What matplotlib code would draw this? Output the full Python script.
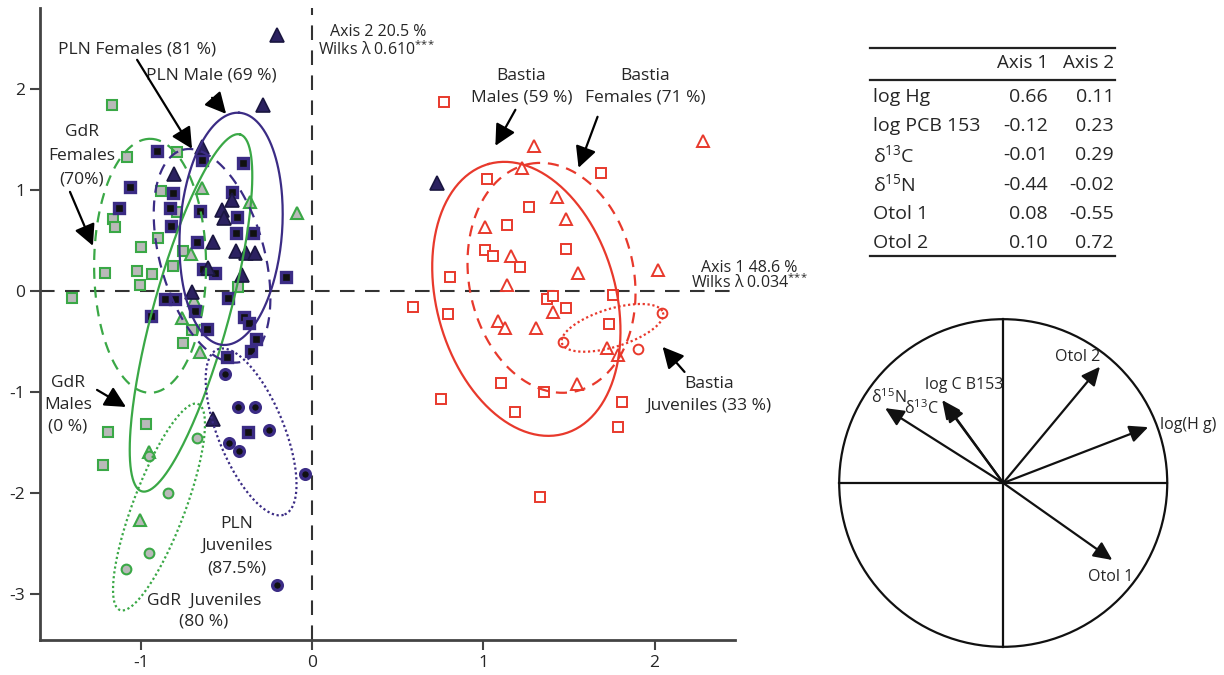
import numpy as np
import matplotlib
matplotlib.use("Agg")
import matplotlib.pyplot as plt
from matplotlib.patches import Circle

plt.rcParams['font.family'] = ['Open Sans', 'DejaVu Sans']
plt.rcParams['mathtext.fontset'] = 'custom'
plt.rcParams['mathtext.rm'] = 'Open Sans'
plt.rcParams['mathtext.it'] = 'Open Sans'
plt.rcParams['axes.unicode_minus'] = False

# ---- discriminant scores (axis 1, axis 2) ----
gdr_sq_x = [-1.170, -1.082, -0.789, -0.883, -0.789, -1.164, -1.152, -0.901, -1.000, -0.754, -1.211,
            -1.023, -0.936, -0.813, -1.006, -0.433, -1.404, -0.702, -0.754, -0.971, -1.193, -1.222]
gdr_sq_y = [1.842, 1.327, 1.376, 0.990, 0.782, 0.713, 0.634, 0.525, 0.436, 0.396, 0.178,
            0.198, 0.168, 0.248, 0.059, 0.040, -0.069, -0.386, -0.515, -1.317, -1.396, -1.723]
gdr_tri_x = [-0.643, -0.363, -0.088, -0.708, -0.690, -0.760, -0.655, -0.953, -1.006]
gdr_tri_y = [1.020, 0.881, 0.772, 0.366, -0.089, -0.267, -0.604, -1.594, -2.267]
gdr_cir_x = [-0.673, -0.953, -0.842, -0.953, -1.088]
gdr_cir_y = [-1.455, -1.634, -2.000, -2.594, -2.752]

pln_sq_x = [-0.906, -0.643, -0.404, -1.064, -0.813, -0.468, -1.129, -0.830, -0.655, -0.439,
            -0.825, -0.444, -0.345, -0.673, -0.637, -0.567, -0.152, -0.860, -0.801, -0.491,
            -0.942, -0.684, -0.398, -0.368, -0.614, -0.327, -0.357, -0.497, -0.374]
pln_sq_y = [1.386, 1.297, 1.267, 1.030, 0.970, 0.980, 0.822, 0.822, 0.792, 0.733,
            0.644, 0.574, 0.574, 0.485, 0.218, 0.178, 0.139, -0.079, -0.079, -0.069,
            -0.248, -0.198, -0.257, -0.317, -0.376, -0.475, -0.594, -0.653, -1.396]
pln_tri_x = [-0.205, -0.287, -0.643, -0.807, -0.468, -0.526, -0.515, -0.579, -0.444, -0.386,
             -0.333, -0.608, -0.409, -0.702, -0.579, 0.731]
pln_tri_y = [2.535, 1.842, 1.426, 1.158, 0.901, 0.802, 0.723, 0.485, 0.396, 0.376,
             0.376, 0.228, 0.158, -0.010, -1.267, 1.069]
pln_cir_x = [-0.509, -0.433, -0.333, -0.251, -0.485, -0.427, -0.041, -0.205]
pln_cir_y = [-0.822, -1.149, -1.149, -1.376, -1.505, -1.584, -1.812, -2.911]

bas_sq_x = [0.772, 1.690, 1.023, 1.269, 1.140, 1.485, 1.012, 1.058, 1.216, 0.807, 1.760, 1.374,
            1.409, 1.480, 0.591, 0.795, 1.731, 1.105, 1.357, 0.754, 1.807, 1.187, 1.789, 1.333]
bas_sq_y = [1.871, 1.168, 1.109, 0.832, 0.653, 0.416, 0.406, 0.347, 0.238, 0.139, -0.040, -0.079,
            -0.050, -0.168, -0.158, -0.228, -0.327, -0.911, -1.000, -1.069, -1.099, -1.198, -1.347, -2.040]
bas_tri_x = [1.298, 2.281, 1.228, 1.433, 1.480, 1.012, 1.164, 1.550, 2.018, 1.140, 1.404,
             1.088, 1.129, 1.310, 1.725, 1.789, 1.544]
bas_tri_y = [1.436, 1.485, 1.218, 0.931, 0.713, 0.634, 0.347, 0.178, 0.208, 0.059, -0.208,
             -0.297, -0.366, -0.366, -0.564, -0.634, -0.921]
bas_cir_x = [2.041, 1.468, 1.901]
bas_cir_y = [-0.218, -0.505, -0.574]

# ellipses: centre, then two conjugate semi-diameters (cx, cy, ux, uy, vx, vy)
ell_gdr_f = (-0.947, 0.248, 0.000, 1.257, 0.327, 0.000)
ell_gdr_m = (-0.708, -0.218, 0.287, 1.766, 0.214, -0.100)
ell_gdr_j = (-0.895, -2.139, 0.228, 1.020, 0.142, -0.091)
ell_pln_f = (-0.585, 0.347, -0.174, 1.048, 0.293, 0.140)
ell_pln_m = (-0.474, 0.614, 0.047, 1.149, 0.298, -0.030)
ell_pln_j = (-0.357, -1.396, 0.196, -0.817, 0.179, 0.123)
ell_bas_m = (1.251, -0.079, -0.220, 1.335, 0.504, 0.238)
ell_bas_f = (1.398, 0.129, -0.131, 1.127, 0.473, 0.157)
ell_bas_j = (1.754, -0.366, 0.295, 0.153, 0.033, -0.180)

# standardized coefficients
tab_vars = ['log Hg', 'log PCB 153', 'δ$^{13}$C', 'δ$^{15}$N', 'Otol 1', 'Otol 2']
tab_ax1 = [0.66, -0.12, -0.01, -0.44, 0.08, 0.10]
tab_ax2 = [0.11, 0.23, 0.29, -0.02, -0.55, 0.72]

# correlation circle
circ_names = ['log(H g)', 'Otol 2', 'Otol 1', 'δ$^{15}$N', 'log C B153', 'δ$^{13}$C']
circ_x = [0.884, 0.590, 0.665, -0.720, -0.372, -0.354]
circ_y = [0.341, 0.710, -0.470, 0.457, 0.506, 0.488]
circ_lab = [(1.125, 0.354), (0.451, 0.768), (0.652, -0.573), (-0.70, 0.518), (-0.238, 0.598), (-0.50, 0.451)]

GREEN = '#3aa846'
NAVY = '#3b2c85'
RED = '#e8392c'
TXT = '#262626'

fig = plt.figure(figsize=(12.24, 6.75), dpi=100)
ax = fig.add_axes([0.0327, 0.0519, 0.5678, 0.9363])

ax.axhline(0, color='#333', lw=1.5, ls=(0, (7, 5)), zorder=1)
ax.axvline(0, color='#333', lw=1.5, ls=(0, (7, 5)), zorder=1)

g = dict(ls='none', mfc='#b9b9b9', mec=GREEN, mew=1.5, zorder=3)
ax.plot(gdr_sq_x, gdr_sq_y, marker='s', ms=7, **g)
ax.plot(gdr_tri_x, gdr_tri_y, marker='^', ms=9, **g)
ax.plot(gdr_cir_x, gdr_cir_y, marker='o', ms=7, **g)

ax.plot(pln_sq_x, pln_sq_y, ls='none', marker='s', ms=7, mfc='#111', mec=NAVY, mew=2.4, zorder=3)
ax.plot(pln_tri_x, pln_tri_y, ls='none', marker='^', ms=9.5, mfc='#2b2160', mec='#1a1640', mew=1.2, zorder=3)
ax.plot(pln_cir_x, pln_cir_y, ls='none', marker='o', ms=7, mfc='#111', mec=NAVY, mew=2.4, zorder=3)

r = dict(ls='none', mfc='white', mec=RED, mew=1.4, zorder=3)
ax.plot(bas_sq_x, bas_sq_y, marker='s', ms=6.5, **r)
ax.plot(bas_tri_x, bas_tri_y, marker='^', ms=9, **r)
ax.plot(bas_cir_x, bas_cir_y, marker='o', ms=7, **r)


def draw_ellipse(e, **kw):
    cx, cy, ux, uy, vx, vy = e
    t = np.linspace(0, 2 * np.pi, 240)
    ax.plot(cx + ux * np.cos(t) + vx * np.sin(t), cy + uy * np.cos(t) + vy * np.sin(t), zorder=4, **kw)


dash = (0, (5, 3.5))
dots = (0, (1, 1.2))
draw_ellipse(ell_gdr_f, color=GREEN, lw=1.6, ls=dash)
draw_ellipse(ell_gdr_m, color=GREEN, lw=1.6)
draw_ellipse(ell_gdr_j, color=GREEN, lw=1.6, ls=dots)
draw_ellipse(ell_pln_f, color=NAVY, lw=1.6, ls=dash)
draw_ellipse(ell_pln_m, color=NAVY, lw=1.6)
draw_ellipse(ell_pln_j, color=NAVY, lw=1.6, ls=dots)
draw_ellipse(ell_bas_m, color=RED, lw=1.6)
draw_ellipse(ell_bas_f, color=RED, lw=1.6, ls=dash)
draw_ellipse(ell_bas_j, color=RED, lw=1.6, ls=dots)

fs = 12.5
labels = [
    ('PLN Females (81 %)', -1.023, 2.386, 1.4),
    ('PLN Male (69 %)', -0.591, 2.129, 1.4),
    ('GdR\nFemales\n(70%)', -1.345, 1.337, 1.65),
    ('GdR\nMales\n(0 %)', -1.427, -1.129, 1.5),
    ('PLN\nJuveniles\n(87.5%)', -0.439, -2.525, 1.5),
    ('GdR  Juveniles\n(80 %)', -0.632, -3.168, 1.4),
    ('Bastia\nMales (59 %)', 1.222, 2.020, 1.4),
    ('Bastia\nFemales (71 %)', 1.947, 2.020, 1.4),
    ('Bastia\nJuveniles (33 %)', 2.316, -1.030, 1.5),
]
for s, x, y, lsp in labels:
    ax.text(x, y, s, ha='center', va='center', fontsize=fs, color=TXT, linespacing=lsp, zorder=6)

arrows = [
    ((-1.023, 2.287), (-0.702, 1.406)),
    ((-0.585, 1.911), (-0.503, 1.752)),
    ((-1.415, 0.980), (-1.281, 0.446)),
    ((-1.257, -0.980), (-1.088, -1.149)),
    ((1.187, 1.792), (1.070, 1.436)),
    ((1.667, 1.723), (1.556, 1.218)),
    ((2.175, -0.802), (2.047, -0.554)),
]
for tail, head in arrows:
    ax.annotate('', xy=head, xytext=tail,
                arrowprops=dict(arrowstyle='-|>,head_length=0.75,head_width=0.38',
                                color='black', lw=1.6, mutation_scale=17, shrinkA=0, shrinkB=0),
                zorder=6)

stars = '$^{{*}{*}{*}}$'
ax.text(0.105, 2.564, 'Axis 2 20.5 %', fontsize=11.5, color=TXT, va='center')
ax.text(0.035, 2.386, 'Wilks λ 0.610' + stars, fontsize=11.5, color=TXT, va='center')
ax.text(2.269, 0.228, 'Axis 1 48.6 %', fontsize=11.5, color=TXT, va='center')
ax.text(2.211, 0.079, 'Wilks λ 0.034' + stars, fontsize=11.5, color=TXT, va='center')

ax.set_xlim(-1.59, 2.47)
ax.set_ylim(-3.455, 2.80)
ax.set_xticks([-1, 0, 1, 2])
ax.set_yticks([-3, -2, -1, 0, 1, 2])
for side in ('top', 'right'):
    ax.spines[side].set_visible(False)
for side in ('left', 'bottom'):
    ax.spines[side].set_linewidth(2)
    ax.spines[side].set_color('#444')
ax.tick_params(direction='out', length=7, width=1.5, color='#444', labelsize=12.5, labelcolor=TXT)

# coefficient table
tax = fig.add_axes([860 / 1224, 1 - 265 / 675, 270 / 1224, 225 / 675])
tax.set_xlim(0, 1)
tax.set_ylim(0, 1)
tax.axis('off')
for yl in (0.964, 0.822, 0.040):
    tax.plot([0.037, 0.944], [yl, yl], color='#222', lw=1.6)
tax.text(0.696, 0.900, 'Axis 1', ha='right', va='center', fontsize=13.5, color=TXT)
tax.text(0.941, 0.900, 'Axis 2', ha='right', va='center', fontsize=13.5, color=TXT)
for i, name in enumerate(tab_vars):
    yy = 0.747 - i * 0.1298
    tax.text(0.048, yy, name, ha='left', va='center', fontsize=14, color=TXT)
    tax.text(0.696, yy, f'{tab_ax1[i]:.2f}', ha='right', va='center', fontsize=14, color=TXT)
    tax.text(0.941, yy, f'{tab_ax2[i]:.2f}', ha='right', va='center', fontsize=14, color=TXT)

# correlation circle
cax = fig.add_axes([790 / 1224, 20 / 675, 433 / 1224, 344 / 675])
cax.set_xlim(-1.3, 1.34)
cax.set_ylim(-1.05, 1.05)
cax.axis('off')
cax.add_patch(Circle((0, 0), 1, fill=False, lw=1.6, color='#111'))
cax.plot([-1, 1], [0, 0], color='#111', lw=1.6)
cax.plot([0, 0], [-1, 1], color='#111', lw=1.6)
for i, name in enumerate(circ_names):
    cax.annotate('', xy=(circ_x[i], circ_y[i]), xytext=(0, 0),
                 arrowprops=dict(arrowstyle='-|>,head_length=0.75,head_width=0.35',
                                 color='#111', lw=1.6, mutation_scale=15, shrinkA=0, shrinkB=0))
    lx, ly = circ_lab[i]
    cax.text(lx, ly, name, ha='center', va='center', fontsize=11.5, color=TXT)

fig.savefig('out.png', dpi=100)
